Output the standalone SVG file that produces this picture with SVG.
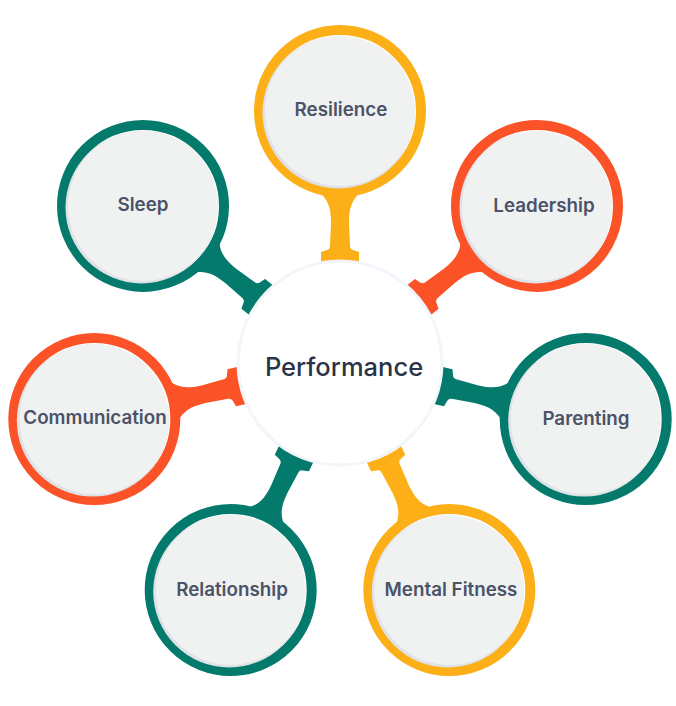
<svg xmlns="http://www.w3.org/2000/svg" xmlns:xlink="http://www.w3.org/1999/xlink" width="676" height="706" viewBox="0 0 676 706">
<style>
.ring{fill:none;stroke-width:10}
.y{stroke:#FCAF17}.o{stroke:#FC5228}.t{stroke:#047A6C}
.sy{fill:#FCAF17}.so{fill:#FC5228}.st{fill:#047A6C}
.shadow{fill:#DFE2E6}
.face{fill:#F0F1F1}
.lbl{font-family:Inter,"Noto Sans",sans-serif;font-weight:600;font-size:18.8px;fill:#4A5367;text-anchor:middle;dominant-baseline:central}
.main{font-family:Inter,"Noto Sans",sans-serif;font-weight:500;font-size:25.5px;fill:#2B3447;text-anchor:middle;dominant-baseline:central}
</style>
<defs>
<path id="stem" d="M -23,79 C -12,88 -9,96 -9,112 L -10,135 Q -10,138 -13,139 L -19,141 L -19,165 L 19,165 L 19,141 L 13,139 Q 10,138 10,135 L 9,112 C 9,96 12,88 23,79 Z"/>
</defs>
<rect width="676" height="706" fill="#FFFFFF"/>
<g id="connectors">
<use xlink:href="#stem" class="sy" transform="translate(340,111) rotate(0)"/>
<use xlink:href="#stem" class="so" transform="translate(537,205.9) rotate(51.429)"/>
<use xlink:href="#stem" class="st" transform="translate(585.7,419.1) rotate(102.857)"/>
<use xlink:href="#stem" class="sy" transform="translate(449.3,590) rotate(154.286)"/>
<use xlink:href="#stem" class="st" transform="translate(230.7,590) rotate(205.714)"/>
<use xlink:href="#stem" class="so" transform="translate(94.3,419.1) rotate(257.143)"/>
<use xlink:href="#stem" class="st" transform="translate(143,205.9) rotate(308.571)"/>
</g>
<g id="performance">
<circle cx="340" cy="363" r="102" fill="#FFFFFF" stroke="#F2F6FA" stroke-width="3"/>
<text class="main" x="344" y="366">Performance</text>
</g>
<g id="resilience">
<circle class="ring y" cx="340" cy="111" r="81"/>
<circle class="shadow" cx="338.5" cy="112.5" r="76"/>
<circle class="face" cx="340" cy="111" r="75"/>
<text class="lbl" x="341" y="109">Resilience</text>
</g>
<g id="leadership">
<circle class="ring o" cx="537" cy="205.9" r="81"/>
<circle class="shadow" cx="535.5" cy="207.4" r="76"/>
<circle class="face" cx="537" cy="205.9" r="75"/>
<text class="lbl" x="544" y="205">Leadership</text>
</g>
<g id="parenting">
<circle class="ring t" cx="585.7" cy="419.1" r="81"/>
<circle class="shadow" cx="584.2" cy="420.6" r="76"/>
<circle class="face" cx="585.7" cy="419.1" r="75"/>
<text class="lbl" x="586" y="418">Parenting</text>
</g>
<g id="mental-fitness">
<circle class="ring y" cx="449.3" cy="590" r="81"/>
<circle class="shadow" cx="447.8" cy="591.5" r="76"/>
<circle class="face" cx="449.3" cy="590" r="75"/>
<text class="lbl" x="451" y="589">Mental Fitness</text>
</g>
<g id="relationship">
<circle class="ring t" cx="230.7" cy="590" r="81"/>
<circle class="shadow" cx="229.2" cy="591.5" r="76"/>
<circle class="face" cx="230.7" cy="590" r="75"/>
<text class="lbl" x="232" y="589">Relationship</text>
</g>
<g id="communication">
<circle class="ring o" cx="94.3" cy="419.1" r="81"/>
<circle class="shadow" cx="92.8" cy="420.6" r="76"/>
<circle class="face" cx="94.3" cy="419.1" r="75"/>
<text class="lbl" x="95" y="417">Communication</text>
</g>
<g id="sleep">
<circle class="ring t" cx="143" cy="205.9" r="81"/>
<circle class="shadow" cx="141.5" cy="207.4" r="76"/>
<circle class="face" cx="143" cy="205.9" r="75"/>
<text class="lbl" x="143" y="204">Sleep</text>
</g>
</svg>
